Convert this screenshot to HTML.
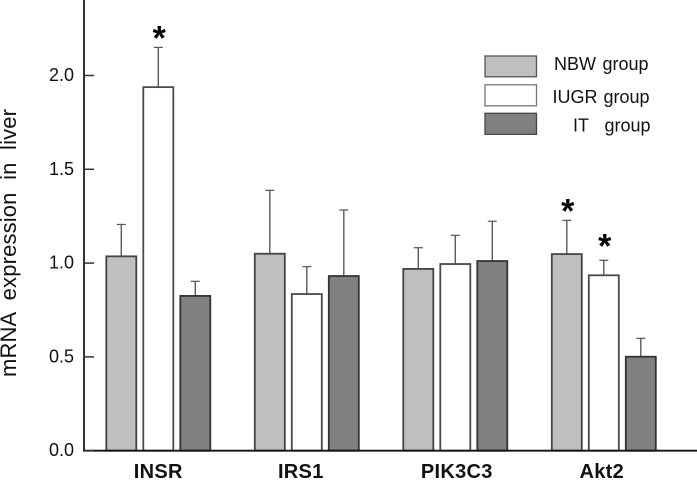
<!DOCTYPE html>
<html>
<head>
<meta charset="utf-8">
<style>
html,body{margin:0;padding:0;background:#fff;}
svg{display:block;}
text{font-family:"Liberation Sans",Arial,sans-serif;fill:#111;}
</style>
</head>
<body>
<svg id="chart" xmlns="http://www.w3.org/2000/svg" width="697" height="480" viewBox="0 0 697 480"></svg>
<script>
var categories = ["INSR", "IRS1", "PIK3C3", "Akt2"];
var seriesNames = ["NBW", "IUGR", "IT"];
var nbwValues = [1.036, 1.05, 0.969, 1.048];
var iugrValues = [1.938, 0.835, 0.995, 0.935];
var itValues = [0.825, 0.931, 1.011, 0.501];
var nbwErrors = [0.17, 0.338, 0.113, 0.18];
var iugrErrors = [0.212, 0.146, 0.153, 0.08];
var itErrors = [0.078, 0.352, 0.212, 0.098];
var nbwStars = [false, false, false, true];
var iugrStars = [true, false, false, true];
var itStars = [false, false, false, false];
var yTicks = [0, 0.5, 1, 1.5, 2];
var yTickLabels = ["0.0", "0.5", "1.0", "1.5", "2.0"];

var svg = document.getElementById('chart');
var NS = 'http://www.w3.org/2000/svg';
function make(tag, attrs, text) {
  var el = document.createElementNS(NS, tag);
  for (var k in attrs) el.setAttribute(k, attrs[k]);
  if (text !== undefined) el.textContent = text;
  svg.appendChild(el);
  return el;
}
function yScale(v) { return 450.7 - 187.6 * v; }
function groupX(i) { return 106.3 + 148.5 * i; }
function barX(i, s) { return groupX(i) + 37 * s; }
var barWidth = 30;
var fills = ['#bfbfbf', '#ffffff', '#808080'];
var strokes = ['#444444', '#4a4a4a', '#333333'];
var valueSets = [nbwValues, iugrValues, itValues];
var errorSets = [nbwErrors, iugrErrors, itErrors];
var starSets = [nbwStars, iugrStars, itStars];
var labelNudge = [0, -6, 1.5, -2];

categories.forEach(function (cat, i) {
  seriesNames.forEach(function (name, s) {
    var v = valueSets[s][i];
    var e = errorSets[s][i];
    var x = barX(i, s);
    var cx = x + barWidth / 2;
    var errLine = make('line', {x1: cx, x2: cx, y1: yScale(v), y2: yScale(v + e), stroke: '#5a5a5a', 'stroke-width': 1.4});
    
    
    var cap = make('line', {x1: cx - 4.5, x2: cx + 4.5, y1: yScale(v + e), y2: yScale(v + e), stroke: '#555', 'stroke-width': 1.2});
    
    
    var bar = make('rect', {x: x, y: yScale(v), width: barWidth, height: yScale(0) - yScale(v), fill: fills[s], stroke: strokes[s], 'stroke-width': 1.8});
    
    
    if (starSets[s][i]) {
      var lift = (i === 3 && s === 1) ? 5 : 0;
      var star = make('text', {x: cx + 1, y: yScale(v + e) + 2 - lift, 'text-anchor': 'middle', 'font-size': 34, 'font-weight': 'bold', style: 'fill:#000'}, '*');
      
      
    }
  });
  var label = make('text', {x: groupX(i) + 52 + labelNudge[i], y: 478, 'text-anchor': 'middle', 'font-size': 20, 'font-weight': 'bold', 'letter-spacing': 0.3, style: 'fill:#111'}, cat);
  
  
});

var yAxis = make('line', {x1: 84, x2: 84, y1: 0, y2: 451.5, stroke: '#333', 'stroke-width': 2});


var xAxis = make('line', {x1: 83, x2: 697, y1: yScale(0), y2: yScale(0), stroke: '#111', 'stroke-width': 1.8});



yTicks.forEach(function (t, i) {
  var tick = make('line', {x1: 84, x2: 94, y1: yScale(t), y2: yScale(t), stroke: '#333', 'stroke-width': 1.5});
  
  
  var lbl = make('text', {x: 74, y: yScale(t) + 5.5, 'text-anchor': 'end', 'font-size': 18}, yTickLabels[i]);
  
  
});

var yTitle = make('text', {transform: 'translate(16,377) rotate(-90)', 'font-size': 22, textLength: 268, lengthAdjust: 'spacing', 'xml:space': 'preserve', style: 'white-space:pre;fill:#111'}, 'mRNA  expression  in  liver');



var legendTops = [56, 84.8, 113.3];
var legendHeights = [20.8, 21, 21];
var legendFills = ['#bfbfbf', '#ffffff', '#808080'];
var legendStrokes = ['#555', '#777', '#444'];
var legendNameX = [554, 552.5, 573];
var legendGroupX = [602.5, 603.5, 604.5];
var legendBase = [70, 103, 131.5];
seriesNames.forEach(function (name, s) {
  var key = name.toLowerCase();
  var sw = make('rect', {x: 485, y: legendTops[s], width: 51.5, height: legendHeights[s], fill: legendFills[s], stroke: legendStrokes[s], 'stroke-width': 1.3});
  
  
  var a = make('text', {x: legendNameX[s], y: legendBase[s], 'font-size': 18}, name);
  
  
  var b = make('text', {x: legendGroupX[s], y: legendBase[s], 'font-size': 18}, 'group');
  
  
});
</script>
</body>
</html>
